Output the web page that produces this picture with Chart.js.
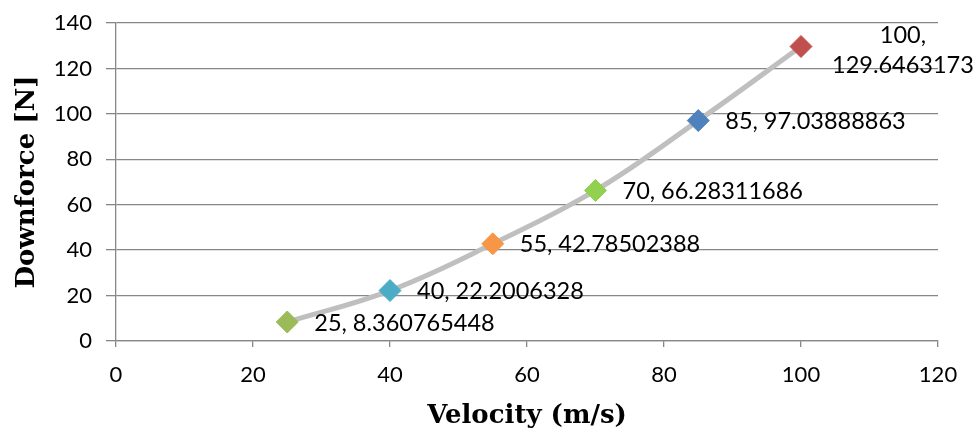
<!DOCTYPE html>
<html>
<head>
<meta charset="utf-8">
<script src="https://cdn.jsdelivr.net/npm/chart.js@4.4.1/dist/chart.umd.min.js"></script>
<style>
  html, body { margin: 0; padding: 0; background: #fff; }
  #wrap { width: 976px; height: 436px; }
</style>
</head>
<body>
<div id="wrap"><canvas id="chart" width="976" height="436"></canvas></div>
<script>
// Data
let velocity = [25, 40, 55, 70, 85, 100];
let downforce = [8.360765448, 22.2006328, 42.78502388, 66.28311686, 97.03888863, 129.6463173];
let pointColors = ["#9BBB59", "#4BACC6", "#F79646", "#92D050", "#4F81BD", "#C0504D"];
let xTicks = [0, 20, 40, 60, 80, 100, 120];
let yTicks = [0, 20, 40, 60, 80, 100, 120, 140];

let points = velocity.map(function (v, i) {
  return { x: v, y: downforce[i] };
});

// Draws "x, y" labels to the right of every point, wrapping if it runs off the canvas
let pointLabels = {
  id: "pointLabels",
  afterDatasetsDraw: function (chart) {
    let ctx = chart.ctx;
    let meta = chart.getDatasetMeta(0);
    ctx.save();
    ctx.font = "23.5px Lato";
    ctx.fillStyle = "#000";
    ctx.textBaseline = "middle";
    meta.data.forEach(function (el, i) {
      let text = velocity[i] + ", " + downforce[i];
      let left = el.x + 27;
      if (left + ctx.measureText(text).width <= chart.width) {
        ctx.textAlign = "left";
        ctx.fillText(text, left, el.y + 1);
        return;
      }
      // wrap onto two lines, centred in the label box
      let lines = [velocity[i] + ",", String(downforce[i])];
      let boxW = Math.max.apply(null, lines.map(function (l) { return ctx.measureText(l).width; }));
      let cx = el.x + 31 + boxW / 2;
      ctx.textAlign = "center";
      ctx.fillText(lines[0], cx, el.y - 11);
      ctx.fillText(lines[1], cx, el.y + 19);
    });
    ctx.restore();
  }
};

let gridColor = "#878787";
let titleFont = { family: "DejaVu Serif", size: 26, weight: "bold" };

new Chart(document.getElementById("chart").getContext("2d"), {
  type: "scatter",
  data: {
    datasets: [
      {
        data: points,
        showLine: true,
        borderColor: "#BFBFBF",
        borderWidth: 5,
        tension: 0.4,
        pointStyle: "rectRot",
        pointRadius: 11,
        pointHoverRadius: 11,
        pointBackgroundColor: pointColors,
        pointBorderColor: pointColors,
        pointBorderWidth: 1,
      },
    ],
  },
  plugins: [pointLabels],
  options: {
    responsive: false,
    animation: false,
    layout: { padding: { top: 23, right: 38, left: 0, bottom: 0 } },
    plugins: {
      legend: { display: false },
      tooltip: { enabled: false },
    },
    scales: {
      x: {
        type: "linear",
        min: 0,
        max: 120,
        afterBuildTicks: function (scale) {
          scale.ticks = xTicks.map(function (v) { return { value: v }; });
        },
        afterFit: function (scale) { scale.height = 95; },
        grid: {
          display: true,
          drawOnChartArea: false,
          tickLength: 6,
          color: gridColor,
          lineWidth: 1.3,
        },
        border: { display: true, color: gridColor, width: 1.3 },
        ticks: {
          font: { family: "Lato", size: 22 },
          color: "#000",
          padding: 15,
          maxRotation: 0,
        },
        title: {
          display: true,
          text: "Velocity (m/s)",
          font: titleFont,
          color: "#000",
          padding: { top: 0, bottom: 4 },
        },
      },
      y: {
        type: "linear",
        min: 0,
        max: 140,
        afterBuildTicks: function (scale) {
          scale.ticks = yTicks.map(function (v) { return { value: v }; });
        },
        afterFit: function (scale) {
          scale.width = 116;
          // let the layout padding alone decide the top edge
          scale.paddingTop = 0;
          scale.paddingBottom = 0;
        },
        grid: {
          color: gridColor,
          lineWidth: 1.3,
          tickLength: 10,
        },
        border: { display: true, color: gridColor, width: 1.3 },
        ticks: {
          font: { family: "Lato", size: 22 },
          color: "#000",
          padding: 14,
        },
        title: {
          display: true,
          text: "Downforce [N]",
          font: titleFont,
          color: "#000",
          padding: { top: 12, bottom: 0 },
        },
      },
    },
  },
});
</script>
</body>
</html>
